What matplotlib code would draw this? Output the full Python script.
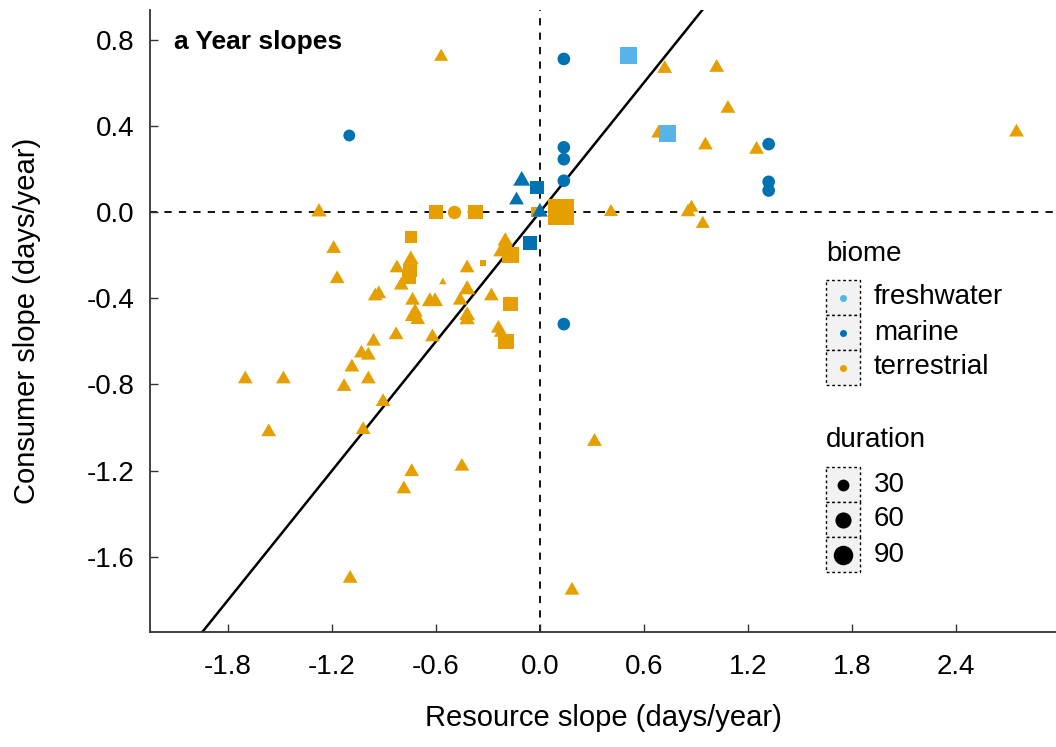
import numpy as np
import matplotlib
matplotlib.use('Agg')
import matplotlib.pyplot as plt
from matplotlib.path import Path
from matplotlib.patches import Rectangle

plt.rcParams['font.family'] = ['Liberation Sans', 'DejaVu Sans']

# terrestrial, triangles: resource slope, consumer slope, duration
terr_tri_x = [-0.57, -1.275, -1.19, -1.17, -0.745, -0.825, -0.80, -0.42, -0.56, -0.20,
              -0.19, -0.225, -0.95, -0.93, -0.735, -0.635, -0.605, -0.46, -0.42, -0.28,
              -0.72, -0.735, -0.705, -0.42, -0.42, -0.24, -0.225, -0.83, -0.62, -0.96,
              -1.03, -0.99, -1.085, -1.70, -1.48, -0.99, -1.13, -0.905, -1.02, -1.565,
              0.315, -0.74, -0.45, -0.785, -1.095, 0.185, 0.72, 1.02, 1.085, 0.685,
              0.955, 1.25, 2.75, 0.41, 0.855, 0.875, 0.94]
terr_tri_y = [0.72, 0.0, -0.17, -0.31, -0.22, -0.26, -0.34, -0.26, -0.325, -0.135,
              -0.16, -0.185, -0.39, -0.38, -0.41, -0.415, -0.415, -0.41, -0.36, -0.39,
              -0.465, -0.485, -0.50, -0.48, -0.50, -0.54, -0.56, -0.57, -0.58, -0.60,
              -0.655, -0.665, -0.72, -0.775, -0.775, -0.775, -0.81, -0.88, -1.01, -1.02,
              -1.065, -1.205, -1.18, -1.285, -1.70, -1.755, 0.665, 0.67, 0.48, 0.365,
              0.31, 0.29, 0.37, 0.0, 0.0, 0.02, -0.055]
terr_tri_dur = [22, 28, 25, 25, 28, 25, 25, 25, 3, 28,
                28, 28, 25, 25, 25, 30, 30, 25, 32, 25,
                28, 28, 25, 30, 28, 25, 22, 25, 25, 25,
                25, 25, 25, 25, 25, 25, 25, 25, 25, 25,
                25, 25, 25, 25, 25, 25, 25, 25, 25, 25,
                25, 25, 25, 22, 25, 22, 22]

terr_sq_x = [-0.60, -0.37, -0.745, -0.75, -0.755, -0.33, -0.17, -0.17, -0.195, 0.12, -0.02]
terr_sq_y = [0.0, 0.0, -0.115, -0.27, -0.305, -0.235, -0.20, -0.425, -0.60, 0.0, 0.0]
terr_sq_dur = [45, 50, 28, 40, 40, 5, 60, 45, 55, 160, 20]

terr_ci_x = [-0.495]
terr_ci_y = [0.0]
terr_ci_dur = [40]

mar_ci_x = [-1.10, 0.138, 0.138, 0.138, 0.138, 0.138, 1.32, 1.32, 1.32]
mar_ci_y = [0.355, 0.71, 0.30, 0.245, 0.145, -0.52, 0.315, 0.14, 0.10]
mar_ci_dur = [30, 35, 35, 35, 35, 35, 35, 35, 35]

mar_tri_x = [-0.105, -0.135, 0.0]
mar_tri_y = [0.145, 0.055, 0.0]
mar_tri_dur = [35, 25, 30]

mar_sq_x = [-0.017, -0.058]
mar_sq_y = [0.115, -0.145]
mar_sq_dur = [40, 45]

fw_sq_x = [0.51, 0.735]
fw_sq_y = [0.725, 0.365]
fw_sq_dur = [65, 65]

biomes = ['freshwater', 'marine', 'terrestrial']
biome_colors = {'freshwater': '#56B4E9', 'marine': '#0072B2', 'terrestrial': '#E69F00'}
dur_breaks = [30, 60, 90]

x_ticks = [-1.8, -1.2, -0.6, 0.0, 0.6, 1.2, 1.8, 2.4]
y_ticks = [0.8, 0.4, 0.0, -0.4, -0.8, -1.2, -1.6]

tri_marker = Path([(0, 1), (-0.866, -0.5), (0.866, -0.5), (0, 1)],
                  [Path.MOVETO, Path.LINETO, Path.LINETO, Path.CLOSEPOLY])


def diam_pt(d):
    d = np.asarray(d, dtype=float)
    return np.sqrt(np.maximum(140 + 4.0 * (d - 30), 20)) * 0.72


def size(d, shape):
    m = diam_pt(d)
    if shape == 'tri':
        m = m * 1.555
    return m ** 2


fig = plt.figure(figsize=(10.56, 7.47), dpi=100)
ax = fig.add_axes([150 / 1056, (747 - 632) / 747, (1056 - 150) / 1056, (632 - 10) / 747])

ax.axhline(0, color='black', lw=1.3, ls=(0, (4, 4)), zorder=1)
ax.axvline(0, color='black', lw=1.3, ls=(0, (4, 4)), zorder=1)
ax.axline((0, 0), slope=1, color='black', lw=1.8, zorder=1)

groups = [
    (terr_tri_x, terr_tri_y, terr_tri_dur, 'terrestrial', 'tri'),
    (terr_sq_x, terr_sq_y, terr_sq_dur, 'terrestrial', 'sq'),
    (terr_ci_x, terr_ci_y, terr_ci_dur, 'terrestrial', 'ci'),
    (mar_ci_x, mar_ci_y, mar_ci_dur, 'marine', 'ci'),
    (mar_sq_x, mar_sq_y, mar_sq_dur, 'marine', 'sq'),
    (mar_tri_x, mar_tri_y, mar_tri_dur, 'marine', 'tri'),
    (fw_sq_x, fw_sq_y, fw_sq_dur, 'freshwater', 'sq'),
]
markers = {'tri': tri_marker, 'sq': 's', 'ci': 'o'}
for gx, gy, gd, biome, shape in groups:
    ax.scatter(gx, gy, s=size(gd, shape), marker=markers[shape],
               color=biome_colors[biome], linewidths=0, zorder=3)

ax.set_xlim(-2.25, 2.978)
ax.set_ylim(-1.948, 0.937)
ax.set_xticks(x_ticks)
ax.set_xticklabels([f'{v:.1f}' for v in x_ticks])
ax.set_yticks(y_ticks)
ax.set_yticklabels([f'{v:.1f}' for v in y_ticks])
for s in ['top', 'right']:
    ax.spines[s].set_visible(False)
for s in ['left', 'bottom']:
    ax.spines[s].set_color('#333333')
    ax.spines[s].set_linewidth(1.3)
ax.tick_params(direction='in', length=6, width=1, color='#333333', labelsize=20)
ax.tick_params(axis='x', pad=16)
ax.tick_params(axis='y', pad=11)

ax.set_xlabel('Resource slope (days/year)', fontsize=21)
ax.set_ylabel('Consumer slope (days/year)', fontsize=21)
ax.xaxis.set_label_coords(0.5, -0.115)
ax.yaxis.set_label_coords(-0.12, 0.5)

ax.text(0.027, 0.949, 'a Year slopes', transform=ax.transAxes, fontsize=19,
        fontweight='bold', va='center', ha='left')

# legends drawn in pixel space
lax = fig.add_axes([0, 0, 1, 1])
lax.set_xlim(0, 1056)
lax.set_ylim(747, 0)
lax.axis('off')

key_x, key_w, key_h = 826, 34, 35
lax.text(key_x, 254, 'biome', fontsize=20, va='center', ha='left')
for i, b in enumerate(biomes):
    y0 = 280 + i * key_h
    lax.add_patch(Rectangle((key_x, y0), key_w, key_h, facecolor='#F2F2F2',
                            edgecolor='black', lw=1, ls=(0, (2, 2))))
    lax.scatter([key_x + key_w / 2], [y0 + key_h / 2], s=(7 * 0.72) ** 2,
                color=biome_colors[b], linewidths=0, zorder=3)
    lax.text(874, y0 + key_h / 2, b, fontsize=20, va='center', ha='left')

lax.text(key_x, 440, 'duration', fontsize=20, va='center', ha='left')
for i, d in enumerate(dur_breaks):
    y0 = 467 + i * key_h
    lax.add_patch(Rectangle((key_x, y0), key_w, key_h, facecolor='#F2F2F2',
                            edgecolor='black', lw=1, ls=(0, (2, 2))))
    lax.scatter([key_x + key_w / 2], [y0 + key_h / 2], s=size(d, 'ci'),
                color='black', linewidths=0, zorder=3)
    lax.text(874, y0 + key_h / 2, str(d), fontsize=20, va='center', ha='left')

fig.savefig('out.png', dpi=100)
